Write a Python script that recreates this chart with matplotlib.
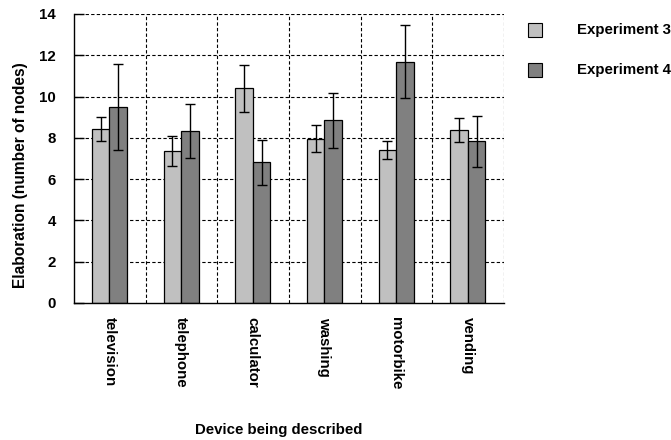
import matplotlib
matplotlib.use("Agg")
import matplotlib.pyplot as plt
from matplotlib.patches import Rectangle
import numpy as np

devices = ["television", "telephone", "calculator", "washing", "motorbike", "vending"]
series_names = ["Experiment 3", "Experiment 4"]
exp3_means = [8.45, 7.35, 10.40, 7.95, 7.41, 8.38]
exp3_errors = [0.58, 0.72, 1.15, 0.65, 0.45, 0.57]
exp4_means = [9.48, 8.32, 6.82, 8.85, 11.68, 7.83]
exp4_errors = [2.09, 1.30, 1.10, 1.33, 1.77, 1.25]
y_ticks = [0, 2, 4, 6, 8, 10, 12, 14]

colors = ["#c0c0c0", "#808080"]
font = ["Liberation Sans", "DejaVu Sans"]
plt.rcParams["font.family"] = font
plt.rcParams["font.weight"] = "bold"
FS = 10.8

W, H = 671, 440
fig = plt.figure(figsize=(W / 100, H / 100), dpi=100)
left, right, top, bottom = 74, 504, 14, 303
ax = fig.add_axes([left / W, 1 - bottom / H, (right - left) / W, (bottom - top) / H])

n = len(devices)
centers = np.arange(n) + 0.495
bw = 0.245
means = [exp3_means, exp4_means]
errs = [exp3_errors, exp4_errors]
for k in range(2):
    xs = centers + (k - 0.5) * bw
    ax.bar(xs, means[k], width=bw, color=colors[k], edgecolor="black",
           linewidth=0.9, zorder=3)
    ax.errorbar(xs, means[k], yerr=errs[k], fmt="none", ecolor="black",
                elinewidth=1.0, capsize=3.5, capthick=1.0, zorder=4)

ax.set_xlim(0, n)
ax.set_ylim(0, 14)

# dashed grid on group boundaries and every y tick
dash = (0, (3, 2))
for y in y_ticks[1:]:
    ax.axhline(y, color="black", lw=0.8, ls=dash, zorder=1)
for x in range(1, n + 1):
    ax.axvline(x, color="black", lw=0.8, ls=dash, zorder=1)

for s in ["top", "right"]:
    ax.spines[s].set_visible(False)
for s in ["left", "bottom"]:
    ax.spines[s].set_linewidth(1.0)
    ax.spines[s].set_zorder(5)

ax.set_yticks(y_ticks)
ax.set_yticklabels([str(t) for t in y_ticks], fontsize=FS, fontweight="bold")
ax.tick_params(axis="y", direction="in", length=7, width=1.0, pad=13)
ax.set_xticks(centers)
ax.set_xticklabels(devices, rotation=-90, fontsize=FS, fontweight="bold",
                   ha="center", va="top")
ax.tick_params(axis="x", length=0, pad=10)

fig.text(21 / W, 1 - 175 / H, "Elaboration (number of nodes)", rotation=90,
         ha="center", va="center", fontsize=11.2, fontweight="bold")
fig.text(279 / W, 1 - 430 / H, "Device being described",
         ha="center", va="center", fontsize=FS, fontweight="bold")

# legend
for k, name in enumerate(series_names):
    cy = 30 + 40 * k
    fig.add_artist(Rectangle((528 / W, 1 - (cy + 7) / H), 14 / W, 14 / H,
                             facecolor=colors[k], edgecolor="black", lw=0.8,
                             transform=fig.transFigure))
    fig.text(577 / W, 1 - cy / H, name, ha="left", va="center",
             fontsize=FS, fontweight="bold")

fig.savefig("out.png", dpi=100)
